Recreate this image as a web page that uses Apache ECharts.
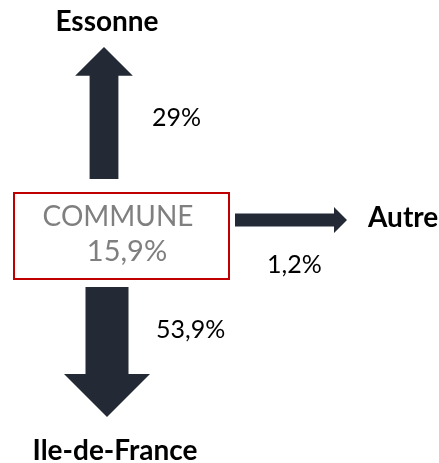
<!DOCTYPE html>
<html lang="fr">
<head>
    <meta charset="UTF-8">
    <title>Flux COMMUNE</title>
    <script src="https://cdn.jsdelivr.net/npm/echarts@6.0.0/dist/echarts.min.js"></script>
    <style>
        html, body { margin: 0; padding: 0; background: #ffffff; }
        #chart { width: 439px; height: 463px; }
    </style>
</head>
<body>
    <div id="chart"></div>
    <script type="text/javascript">
        // données
        var destinations = ['Essonne', 'Autre', 'Ile-de-France'];
        var shares = [29, 1.2, 53.9];
        var shareLabels = ['29%', '1,2%', '53,9%'];
        var directions = ['up', 'right', 'down'];
        var originName = 'COMMUNE';
        var originShare = 15.9;
        var originLabel = '15,9%';

        // mise en page des flèches (pixels)
        var layout = {
            up:    { axis: 104, from: 179, to: 47,  pct: [152, 118], name: [107, 22] },
            right: { axis: 220, from: 235, to: 347, pct: [267, 265], name: [368, 218] },
            down:  { axis: 107, from: 287, to: 417, pct: [156, 330], name: [115, 451] }
        };
        var fontFamily = 'Lato, "Open Sans", sans-serif';

        // épaisseur de la flèche selon la part
        var minShare = Math.min.apply(null, shares);
        var maxShare = Math.max.apply(null, shares);
        function arrowWidth(v) {
            return 13 + (v - minShare) * (43 - 13) / (maxShare - minShare);
        }

        function arrowPoints(dir, w) {
            var L = layout[dir];
            var a = L.axis, s = L.from, t = L.to, h = w / 2;
            if (dir === 'up') {
                var b = t + w;
                return [[a - h, s], [a - h, b], [a - w, b], [a, t], [a + w, b], [a + h, b], [a + h, s]];
            }
            if (dir === 'down') {
                var b2 = t - w;
                return [[a - h, s], [a - h, b2], [a - w, b2], [a, t], [a + w, b2], [a + h, b2], [a + h, s]];
            }
            var b3 = t - w;
            return [[s, a - h], [b3, a - h], [b3, a - w], [t, a], [b3, a + w], [b3, a + h], [s, a + h]];
        }

        var chart = echarts.init(document.getElementById('chart'));

        var option = {
            animation: false,
            series: [
                {
                    type: 'custom',
                    coordinateSystem: 'none',
                    data: shares.map(function (v, i) { return [v, i]; }),
                    renderItem: function (params, api) {
                        var i = params.dataIndex;
                        var dir = directions[i];
                        var L = layout[dir];
                        var w = arrowWidth(api.value(0));
                        return {
                            type: 'group',
                            children: [
                                {
                                    type: 'polygon',
                                    shape: { points: arrowPoints(dir, w) },
                                    style: { fill: '#232a35' }
                                },
                                {
                                    type: 'text',
                                    style: {
                                        text: shareLabels[i],
                                        x: L.pct[0], y: L.pct[1],
                                        align: 'left', verticalAlign: 'middle',
                                        font: '25px ' + fontFamily,
                                        fill: '#000000'
                                    }
                                },
                                {
                                    type: 'text',
                                    style: {
                                        text: destinations[i],
                                        x: L.name[0], y: L.name[1],
                                        align: dir === 'right' ? 'left' : 'center',
                                        verticalAlign: 'middle',
                                        font: 'bold 28px ' + fontFamily,
                                        fill: '#000000'
                                    }
                                }
                            ]
                        };
                    }
                },
                {
                    type: 'custom',
                    coordinateSystem: 'none',
                    data: [[originShare]],
                    renderItem: function (params, api) {
                        return {
                            type: 'group',
                            children: [
                                {
                                    type: 'rect',
                                    shape: { x: 14, y: 193, width: 215, height: 86 },
                                    style: { fill: '#ffffff', stroke: '#c00000', lineWidth: 2 }
                                },
                                {
                                    type: 'text',
                                    style: {
                                        text: originName,
                                        x: 118, y: 217,
                                        align: 'center', verticalAlign: 'middle',
                                        font: '28px ' + fontFamily,
                                        fill: '#7f7f7f'
                                    }
                                },
                                {
                                    type: 'text',
                                    style: {
                                        text: originLabel,
                                        x: 127, y: 252,
                                        align: 'center', verticalAlign: 'middle',
                                        font: '29px ' + fontFamily,
                                        fill: '#7f7f7f'
                                    }
                                }
                            ]
                        };
                    }
                }
            ]
        };

        chart.setOption(option);
        window.addEventListener('resize', function () { chart.resize(); });
    </script>
</body>
</html>
